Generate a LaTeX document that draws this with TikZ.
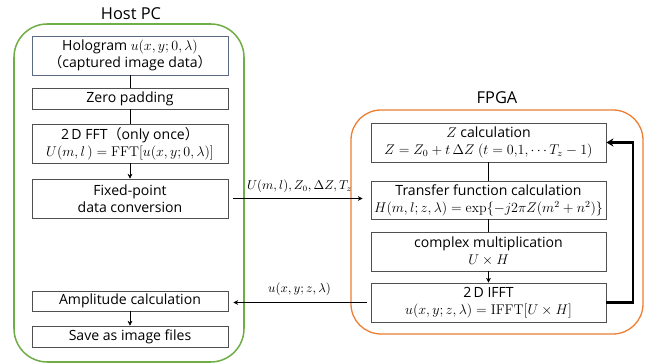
\documentclass[tikz,border=0pt]{standalone}
\usepackage{amsmath}
\usepackage[no-math]{fontspec}
\setmainfont{Open Sans}
\newfontfamily\jpfont{Noto Sans CJK JP}
\usetikzlibrary{arrows.meta}

\definecolor{pcgreen}{HTML}{70AD47}
\definecolor{fpgaorange}{HTML}{ED7D31}
\definecolor{boxgray}{HTML}{505050}
\definecolor{slategray}{HTML}{5A6A80}

\newcommand{\eqline}[1]{{\fontsize{11.5}{13}\selectfont$#1$}}
\newcommand{\jparen}[1]{{\jpfont （}#1{\jpfont ）}}

\begin{document}
\begin{tikzpicture}[
    box/.style={rectangle, draw=boxgray, line width=0.8pt, align=center, inner sep=1pt,
      font=\fontsize{12}{14.5}\selectfont},
    pcbox/.style={box, minimum width=5.88cm},
    fpgabox/.style={box, minimum width=7.05cm},
    title/.style={font=\fontsize{14}{16}\selectfont},
    datalabel/.style={font=\fontsize{10.5}{12}\selectfont},
    >={Stealth[length=4pt,width=4pt]}]
  \useasboundingbox (0,0) rectangle (19.59,10.92);

  % frames
  \draw[pcgreen, line width=1.3pt, rounded corners=1cm] (0.42,0.06) rectangle (7.32,10.2);
  \draw[fpgaorange, line width=1.1pt, rounded corners=0.9cm] (10.53,0.9) rectangle (19.29,7.62);
  \node[title] (pc)   at (3.93,10.5) {Host PC};
  \node[title] (fpga) at (14.91,7.98) {FPGA};

  % host side
  \node[pcbox, draw=slategray, minimum height=1.17cm] (holo) at (3.9,9.255)
    {Hologram \eqline{u(x,y;0,\lambda)}\\\jparen{captured image data}};
  \node[pcbox, minimum height=0.63cm] (zero)  at (3.9,7.965) {Zero padding};
  \node[pcbox, minimum height=1.17cm] (fft)   at (3.9,6.615)
    {2\,D FFT\jparen{only once}\\\eqline{U(m,l\,)=\mathrm{FFT}[u(x,y;0,\lambda)]}};
  \node[pcbox, minimum height=1.17cm] (fixed) at (3.9,4.965) {Fixed-point\\data conversion};
  \node[pcbox, minimum height=0.6cm]  (amp)   at (3.9,1.89) {Amplitude calculation};
  \node[pcbox, minimum height=0.63cm] (save)  at (3.9,0.825) {Save as image files};

  % fpga side
  \node[fpgabox, minimum height=1.17cm] (zcalc) at (14.655,6.645)
    {\eqline{Z} calculation\\\eqline{Z=Z_0+t\,\Delta Z\ (t=0{,}1{,}\cdots T_z-1)}};
  \node[fpgabox, minimum height=1.14cm] (trans) at (14.655,4.92)
    {Transfer function calculation\\\eqline{H(m,l;z,\lambda)=\exp\{-j2\pi Z(m^2+n^2)\}}};
  \node[fpgabox, minimum height=1.17cm] (cmul)  at (14.655,3.375)
    {complex multiplication\\\eqline{U\times H}};
  \node[fpgabox, minimum height=1.17cm] (ifft)  at (14.655,1.845)
    {2\,D IFFT\\\eqline{u(x,y;z,\lambda)=\mathrm{IFFT}[U\times H]}};
  \coordinate (back) at (18.99,1.86);

  \draw (holo) -- (zero);
  \draw (zero) -- (fft);
  \draw[->] (fft) -- (fixed);
  \draw[->] (amp) -- (save);
  \draw (zcalc) -- (trans);
  \draw (trans) -- (cmul);
  \draw[->] (cmul) -- (ifft);

  % host <-> fpga
  \draw[->, line width=0.8pt, shorten <=0.15cm, shorten >=0.24cm] (fixed.east) -- (fixed.east -| trans.west)
    node[midway, above=1pt, datalabel] {$U(m,l),Z_0,\Delta Z,T_z$};
  \draw[->, line width=0.8pt, shorten <=0.12cm, shorten >=0.15cm] (ifft.west) -- (ifft.west -| amp.east)
    node[midway, above=2pt, datalabel] {$u(x,y;z,\lambda)$};

  % loop over z
  \draw[-{Stealth[length=6pt,width=7pt]}, line width=2.4pt] (ifft.east) -- (ifft.east -| back) |- (zcalc.east);
\end{tikzpicture}
\end{document}
